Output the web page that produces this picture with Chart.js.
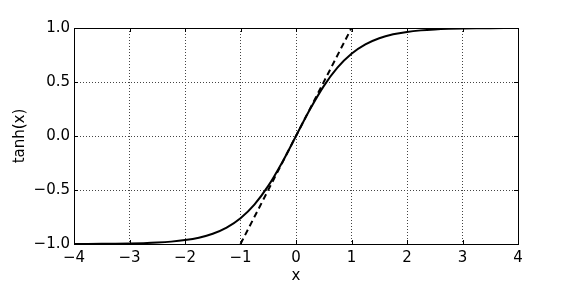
<!DOCTYPE html>
<html>
<head>
<meta charset="utf-8">
<script src="https://cdn.jsdelivr.net/npm/chart.js@4/dist/chart.umd.min.js"></script>
<style>
  html, body { margin: 0; padding: 0; background: #fff; }
  #wrap { width: 576px; height: 288px; }
</style>
</head>
<body>
<div id="wrap"><canvas id="c" width="576" height="288"></canvas></div>
<script>
// Data
const xValues = [-4, -3.75, -3.5, -3.25, -3, -2.75, -2.5, -2.25, -2, -1.75, -1.5, -1.25, -1, -0.75, -0.5, -0.25, 0,
                 0.25, 0.5, 0.75, 1, 1.25, 1.5, 1.75, 2, 2.25, 2.5, 2.75, 3, 3.25, 3.5, 3.75, 4];
const tanhValues = [-0.9993, -0.9989, -0.9982, -0.9970, -0.9951, -0.9919, -0.9866, -0.9780, -0.9640, -0.9414, -0.9051, -0.8483, -0.7616, -0.6351, -0.4621, -0.2449, 0,
                    0.2449, 0.4621, 0.6351, 0.7616, 0.8483, 0.9051, 0.9414, 0.9640, 0.9780, 0.9866, 0.9919, 0.9951, 0.9970, 0.9982, 0.9989, 0.9993];
const tangentX = [-1, 1];
const tangentY = [-1, 1];
const xTicks = [-4, -3, -2, -1, 0, 1, 2, 3, 4];
const yTicks = [-1.0, -0.5, 0.0, 0.5, 1.0];

const FONT = "'DejaVu Sans', sans-serif";

const frame = {
  id: 'frame',
  afterDraw(chart) {
    const {ctx, chartArea: a, scales} = chart;
    ctx.save();
    ctx.strokeStyle = '#000';
    ctx.lineWidth = 1;
    ctx.strokeRect(Math.round(a.left) + 0.5, Math.round(a.top) + 0.5,
                   Math.round(a.right - a.left), Math.round(a.bottom - a.top));
    // inward tick marks
    ctx.beginPath();
    const tl = 4;
    xTicks.forEach(v => {
      const px = Math.round(scales.x.getPixelForValue(v)) + 0.5;
      ctx.moveTo(px, a.bottom); ctx.lineTo(px, a.bottom - tl);
      ctx.moveTo(px, a.top); ctx.lineTo(px, a.top + tl);
    });
    yTicks.forEach(v => {
      const py = Math.round(scales.y.getPixelForValue(v)) + 0.5;
      ctx.moveTo(a.left, py); ctx.lineTo(a.left + tl, py);
      ctx.moveTo(a.right, py); ctx.lineTo(a.right - tl, py);
    });
    ctx.stroke();
    ctx.restore();
  }
};

const minus = s => String(s).replace('-', '\u2212');

new Chart(document.getElementById('c'), {
  type: 'line',
  data: {
    datasets: [
      {
        data: xValues.map((x, i) => ({x, y: tanhValues[i]})),
        borderColor: '#000',
        borderWidth: 2,
        pointRadius: 0,
        cubicInterpolationMode: 'monotone',
        fill: false
      },
      {
        data: tangentX.map((x, i) => ({x, y: tangentY[i]})),
        borderColor: '#000',
        borderWidth: 2,
        borderDash: [6, 4],
        pointRadius: 0,
        fill: false
      }
    ]
  },
  options: {
    responsive: false,
    animation: false,
    events: [],
    layout: { padding: { top: 28, right: 58, bottom: 0, left: 0 } },
    plugins: { legend: { display: false }, tooltip: { enabled: false } },
    scales: {
      x: {
        type: 'linear',
        min: -4, max: 4,
        afterFit: s => { s.height = 44; },
        afterBuildTicks: s => { s.ticks = xTicks.map(v => ({value: v})); },
        grid: { color: '#444', lineWidth: 1, drawTicks: false },
        border: { display: false, dash: [1, 2] },
        ticks: {
          color: '#000', padding: 5,
          font: { family: FONT, size: 15 },
          callback: v => minus(v)
        },
        title: {
          display: true, text: 'x', color: '#000',
          font: { family: FONT, size: 15 },
          padding: { top: 0, bottom: 3 }
        }
      },
      y: {
        type: 'linear',
        min: -1, max: 1,
        afterFit: s => { s.width = 74; },
        afterBuildTicks: s => { s.ticks = yTicks.map(v => ({value: v})); },
        grid: { color: '#444', lineWidth: 1, drawTicks: false },
        border: { display: false, dash: [1, 2] },
        ticks: {
          color: '#000', padding: 4,
          font: { family: FONT, size: 15 },
          callback: v => minus(Number(v).toFixed(1))
        },
        title: {
          display: true, text: 'tanh(x)', color: '#000',
          font: { family: FONT, size: 15 },
          padding: { top: 11, bottom: 0 }
        }
      }
    }
  },
  plugins: [frame]
});
</script>
</body>
</html>
